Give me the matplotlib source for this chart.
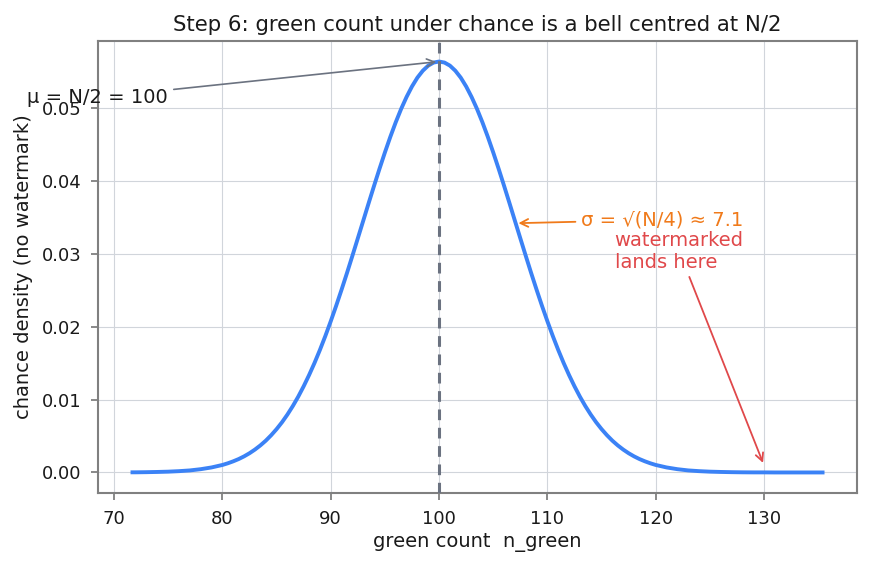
import matplotlib
matplotlib.use("Agg")
import matplotlib.pyplot as plt

# chance distribution of the green count (N = 200 tokens)
n_tokens = 200
mu = 100
sigma = 7.07
green_count = [71.7, 72, 73, 74, 75, 76, 77, 78, 79, 80,
               80.5, 81, 81.5, 82, 82.5, 83, 83.5, 84, 84.5, 85, 85.5, 86,
               86.5, 87, 87.5, 88, 88.5, 89, 89.5, 90, 90.5, 91, 91.5, 92,
               92.5, 93, 93.5, 94, 94.5, 95, 95.5, 96, 96.5, 97, 97.5, 98,
               98.5, 99, 99.5, 100, 100.5, 101, 101.5, 102, 102.5, 103,
               103.5, 104, 104.5, 105, 105.5, 106, 106.5, 107, 107.5, 108,
               108.5, 109, 109.5, 110, 110.5, 111, 111.5, 112, 112.5, 113,
               113.5, 114, 114.5, 115, 115.5, 116, 116.5, 117, 117.5, 118,
               118.5, 119, 119.5, 120,
               121, 122, 123, 124, 125, 126, 127, 128, 129, 130, 131, 132,
               133, 134, 135, 135.4]
density = [0.00002, 0.00002, 0.00004, 0.00007, 0.00011, 0.00018, 0.00028,
           0.00045, 0.00069, 0.00103,
           0.00126, 0.00153, 0.00184, 0.00221, 0.00264, 0.00314, 0.00371,
           0.00436, 0.00511, 0.00595, 0.00689, 0.00795, 0.00912, 0.01041,
           0.01183, 0.01337, 0.01503, 0.01682, 0.01873, 0.02076, 0.02288,
           0.02510, 0.02739, 0.02975, 0.03215, 0.03456, 0.03698, 0.03936,
           0.04169, 0.04394, 0.04608, 0.04808, 0.04992, 0.05156, 0.05300,
           0.05421, 0.05516, 0.05586, 0.05628, 0.05642, 0.05628, 0.05586,
           0.05516, 0.05421, 0.05300, 0.05156, 0.04992, 0.04808, 0.04608,
           0.04394, 0.04169, 0.03936, 0.03698, 0.03456, 0.03215, 0.02975,
           0.02739, 0.02510, 0.02288, 0.02076, 0.01873, 0.01682, 0.01503,
           0.01337, 0.01183, 0.01041, 0.00912, 0.00795, 0.00689, 0.00595,
           0.00511, 0.00436, 0.00371, 0.00314, 0.00264, 0.00221, 0.00184,
           0.00153, 0.00126, 0.00103,
           0.00069, 0.00045, 0.00028, 0.00018, 0.00011, 0.00007, 0.00004,
           0.00002, 0.00001, 0.00001, 0.0, 0.0, 0.0, 0.0, 0.0, 0.0]
peak = 0.05642
sigma_density = 0.03422
watermarked_count = 130

BLUE = "#3b82f6"
GREY = "#6b7280"
ORANGE = "#f07a1a"
RED = "#e0484a"
INK = "#1a1a1a"

plt.rcParams["font.family"] = "DejaVu Sans"
plt.rcParams["font.size"] = 14

fig = plt.figure(figsize=(8.71, 5.67), dpi=100)
ax = fig.add_axes([0.1125, 0.1305, 0.8715, 0.7972])

ax.plot(green_count, density, color=BLUE, lw=2.8, zorder=3,
        solid_joinstyle="round")
ax.axvline(mu, color=GREY, lw=2.2, linestyle=(0, (3.5, 2.5)), zorder=4)

# annotations
ax.annotate("μ = N/2 = 100", xy=(mu, peak), xytext=(75, 0.0515),
            ha="right", va="center", color=INK,
            arrowprops=dict(arrowstyle="->", color=GREY, lw=1.2))
ax.annotate("σ = √(N/4) ≈ 7.1", xy=(mu + sigma, sigma_density),
            xytext=(113.1, 0.0347), ha="left", va="center", color=ORANGE,
            arrowprops=dict(arrowstyle="->", color=ORANGE, lw=1.3))
ax.annotate("watermarked\nlands here", xy=(watermarked_count, 0.00096),
            xytext=(116.2, 0.0304), ha="left", va="center", color=RED,
            arrowprops=dict(arrowstyle="->", color=RED, lw=1.3))

ax.set_title("Step 6: green count under chance is a bell centred at N/2",
             fontsize=15.3, color=INK, pad=7)
ax.set_xlabel("green count  n_green", color=INK, labelpad=4)
ax.set_ylabel("chance density (no watermark)", color=INK, labelpad=6)

ax.set_xticks([70, 80, 90, 100, 110, 120, 130])
ax.set_yticks([0.0, 0.01, 0.02, 0.03, 0.04, 0.05])
ax.yaxis.set_major_formatter(matplotlib.ticker.FormatStrFormatter("%.2f"))
ax.grid(True, color="#d1d5db", lw=0.8)
ax.set_axisbelow(True)
for s in ax.spines.values():
    s.set_color("#808080")
    s.set_linewidth(1.5)
ax.tick_params(colors="#808080", labelcolor=INK, labelsize=13,
               length=5, width=1.3, pad=7)

fig.savefig("out.png", dpi=100)
